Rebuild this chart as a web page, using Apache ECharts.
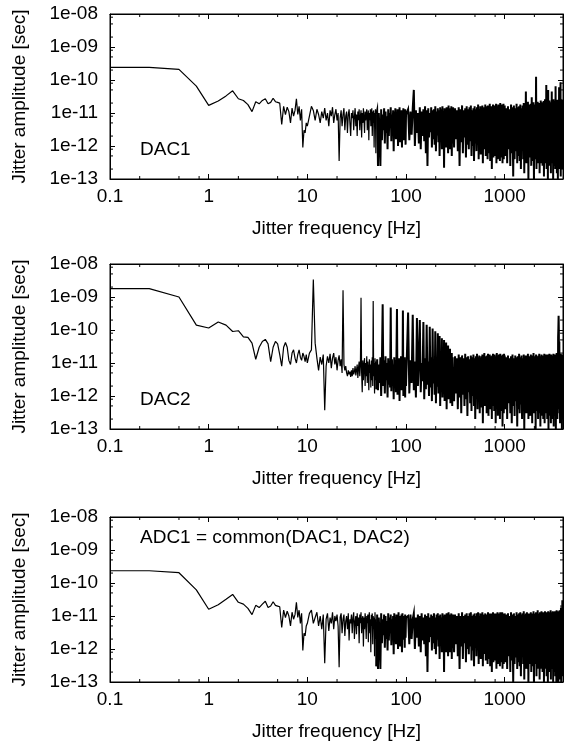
<!DOCTYPE html>
<html>
<head>
<meta charset="utf-8">
<script src="https://cdn.jsdelivr.net/npm/echarts@6/dist/echarts.min.js"></script>
<style>
html,body{margin:0;padding:0;background:#fff;}
#chart{width:564px;height:742px;}
</style>
</head>
<body>
<div id="chart"></div>
<script>
// ---------- data (amplitudes in picoseconds; 1 ps = 1e-12 s) ----------
const PS = 1e-12;
const panelLabels = ['DAC1', 'DAC2', 'ADC1 = common(DAC1, DAC2)'];
const xTitle = 'Jitter frequency [Hz]';
const yTitle = 'Jitter amplitude [sec]';

// low-frequency bins (first point at the axis minimum)
const freqLow = [0.1, 0.25, 0.5, 0.75, 1, 1.25, 1.5, 1.75, 2, 2.25, 2.5, 2.75, 3, 3.25, 3.5, 3.75, 4, 4.25, 4.5, 4.75, 5,
  5.25, 5.5, 5.75, 6, 6.25, 6.5, 6.75, 7, 7.25, 7.5, 7.75, 8, 8.25, 8.5, 8.75, 9, 9.25, 9.5, 9.75, 10];
// remaining segments: start frequency and bin step (Hz)
const segStart = [10.5, 51, 105, 307, 1020];
const segStep = [0.5, 1, 3, 7, 20];

// ---- DAC1 ----
const dac1A = [240, 240, 210, 65, 17, 23, 33, 47, 27, 24, 18, 11, 22, 19, 24, 27, 19, 21, 28, 22, 21, 20, 4.5, 16, 9, 15, 11, 5, 14, 8, 12, 27, 9, 16, 6, 13, 0.9, 3, 2.5, 5, 4];
const dac1B = [8, 16, 12, 6, 13, 9, 5, 11, 7, 14, 6, 10, 4, 12, 8, 15, 5, 9, 13, 6,
  10, 0.35, 7, 12, 4, 9, 14, 3, 8, 11, 2.5, 9, 13, 5, 2, 10, 7, 12, 3, 8,
  14, 4, 9, 2, 11, 6, 13, 3, 8, 12, 1.8, 10, 5, 14, 7, 2.5, 11, 6, 9, 13,
  3, 8, 12, 1.5, 10, 6, 13, 4, 9, 14, 2, 11, 5, 12, 0.9, 10, 6, 13, 0.6, 9];
const dac1C = [12, 0.25, 10, 2, 0.25, 13, 1.5, 9, 3, 14, 1.2, 11, 2.5, 8, 0.8, 13, 2, 10, 4, 15,
  1.4, 9, 2.2, 12, 0.7, 11, 3, 14, 1.6, 8, 2.8, 13, 1, 10, 2.4, 15, 1.3, 9, 3.5, 12,
  0.9, 11, 2, 14, 1.5, 10, 2.6, 13, 1.1, 9];
const dac1D = [13, 1.5, 11, 2.2, 14, 50, 1, 12, 2.5, 10, 1.2, 15, 0.8, 11, 2, 13, 1.4, 16, 0.6, 12,
  0.25, 14, 1.8, 10, 2.6, 15, 0.9, 12, 1.6, 13, 1.1, 16, 0.7, 11, 2.1, 14, 1.3, 12, 0.5, 15,
  1.9, 13, 0.8, 16, 1.2, 11, 0.22, 14, 1.7, 12, 0.9, 15, 2.3, 13, 0.6, 17, 1.4, 12, 0.8, 14,
  1.5, 16, 0.5, 13, 1.2, 15];
const dac1E = [0.9, 14, 1.6, 12, 0.7, 15, 0.25, 13, 1.3, 17, 0.6, 12, 1.8, 14, 0.45, 16, 1.1, 13, 0.8, 15,
  1.4, 17, 0.5, 12, 1, 14, 0.35, 16, 1.2, 13, 0.7, 15, 1.5, 18, 0.4, 13, 0.9, 16, 0.55, 14,
  1.2, 17, 0.3, 15, 0.8, 13, 1.4, 18, 0.5, 16, 0.9, 14, 0.4, 17, 1.1, 15, 0.6, 19, 0.35, 13,
  1, 16, 0.2, 14, 0.7, 18, 0.45, 15, 1.2, 17, 0.5, 13, 0.8, 19, 0.3, 16, 1, 14, 0.4, 18,
  0.65, 15, 1.1, 17, 0.35, 20, 0.7, 14, 0.45, 16, 0.9, 18, 0.3, 15, 0.6, 19, 0.4, 16, 1, 17];
const dac1F = [0.5, 14, 0.3, 16, 0.8, 13, 0.25, 18, 0.6, 15, 0.12, 17, 0.4, 14, 0.7, 19, 0.3, 15, 0.5, 16,
  0.35, 18, 0.2, 14, 0.9, 17, 0.4, 20, 0.15, 16, 0.5, 45, 0.3, 17, 0.6, 22, 0.1, 18, 0.45, 15,
  0.8, 19, 0.25, 30, 0.5, 16, 0.35, 21, 0.1, 17, 0.4, 18, 0.6, 125, 0.2, 19, 0.5, 22, 0.3, 16,
  0.7, 20, 0.15, 17, 0.45, 24, 0.3, 18, 0.55, 21, 0.25, 19, 0.6, 23, 0.12, 18, 0.4, 26, 0.3, 20,
  0.5, 70, 0.2, 19, 0.45, 22, 0.1, 50, 0.35, 18, 0.6, 24, 0.25, 20, 0.5, 21, 0.15, 19, 0.4, 45,
  0.3, 22, 0.55, 19, 0.1, 26, 0.4, 23, 0.25, 20, 0.5, 21, 0.2, 65, 0.35, 24, 0.6, 19, 0.15, 22,
  0.45, 25, 0.1, 20, 0.3, 23, 0.5, 60, 0.2, 21, 0.4, 24, 0.25, 85, 0.12, 22, 0.5, 26, 0.3, 20,
  0.2, 23, 0.45, 25, 0.3];

// ---- DAC2 ----
const dac2A = [1800, 1800, 1000, 140, 115, 175, 140, 90, 95, 62, 60, 40, 13, 30, 45, 52, 38, 11, 30, 45, 38, 18, 8, 30, 42, 30, 12, 9, 20, 25, 14, 10, 18, 25, 15, 12, 20, 16, 11, 18, 10];
const dac2B = [20, 25, 3400, 40, 14, 6, 15, 9, 18, 0.37, 8, 16, 10, 19, 7, 14, 20, 9, 15, 6,
  12, 17, 8, 13, 5, 1600, 9, 6, 8, 5, 4, 6, 4.5, 5.5, 3.8, 6, 4, 7, 4.5, 5.5,
  8, 4.2, 6, 9, 3.5, 7, 11, 4, 8, 950, 5, 1.3, 12, 3, 9, 14, 2, 10, 4, 16,
  2.5, 11, 6, 1.5, 13, 5, 9, 1.8, 12, 3, 15, 2, 760, 4, 10, 1.2, 14, 3, 11, 1.6];
const dac2C = [13, 1.5, 9, 2.5, 15, 1, 11, 600, 2, 12, 1.2, 16, 3, 10, 0.9, 14, 2.2, 11, 1.8, 480,
  1.4, 13, 2.8, 9, 0.8, 15, 2, 12, 1.3, 17, 430, 1.1, 10, 2.4, 14, 0.7, 12, 3, 16, 1.5,
  11, 2.2, 390, 1, 13, 2.6, 15, 0.9, 12, 2];
const dac2D = [340, 1.2, 12, 2.5, 290, 1.5, 11, 0.9, 230, 2, 13, 200, 1.3, 10, 2.8, 175, 0.8, 14, 1.6, 145,
  2.2, 11, 1, 125, 1.8, 15, 0.7, 110, 2.4, 12, 1.1, 92, 0.6, 13, 1.9, 80, 1.2, 14, 66, 0.5,
  12, 2, 56, 0.9, 15, 1.4, 50, 0.7, 13, 2.1, 42, 0.4, 12, 1.5, 34, 0.8, 14, 1.1, 27, 0.6,
  13, 1.7, 20, 0.5, 15, 1.2];
const dac2E = [0.7, 16, 1.2, 14, 0.4, 18, 0.9, 15, 0.3, 17, 1.1, 14, 0.5, 19, 0.8, 15, 0.25, 16, 1.3, 13,
  0.6, 17, 0.35, 15, 1, 18, 0.5, 14, 0.2, 16, 0.9, 19, 0.4, 15, 1.2, 17, 0.3, 14, 0.7, 16,
  0.45, 18, 0.15, 15, 0.8, 20, 0.5, 16, 1, 14, 0.3, 17, 0.6, 19, 0.25, 15, 0.9, 18, 0.4, 16,
  0.7, 14, 0.2, 17, 0.5, 19, 1.1, 15, 0.35, 18, 0.6, 16, 0.15, 14, 0.8, 20, 0.4, 17, 0.25, 15,
  0.9, 18, 0.45, 16, 0.2, 19, 0.7, 15, 0.35, 17, 0.5, 16, 0.12, 18, 0.6, 15, 0.3, 19, 0.8, 17];
const dac2F = [0.4, 15, 0.2, 17, 0.6, 14, 0.3, 16, 0.15, 18, 0.5, 14, 0.25, 17, 0.7, 15, 0.12, 16, 0.4, 19,
  0.3, 15, 0.55, 17, 0.2, 14, 0.45, 18, 0.1, 16, 0.6, 17, 0.3, 15, 0.5, 19, 0.2, 16, 0.4, 14,
  0.25, 18, 0.6, 15, 0.15, 17, 0.5, 20, 0.3, 16, 0.45, 14, 0.1, 18, 0.35, 16, 0.6, 15, 0.2, 17,
  0.5, 19, 0.3, 16, 0.12, 15, 0.45, 18, 0.25, 14, 0.6, 17, 0.2, 16, 0.4, 19, 0.15, 15, 0.5, 18,
  0.3, 16, 0.55, 14, 0.2, 18, 0.4, 17, 0.1, 15, 0.45, 19, 0.25, 16, 0.6, 15, 0.15, 18, 0.35, 17,
  0.2, 14, 0.5, 17, 0.3, 19, 0.12, 16, 0.4, 15, 0.55, 18, 0.25, 16, 0.1, 17, 0.45, 20, 0.3, 15,
  0.2, 17, 0.5, 60, 110, 270, 90, 0.4, 45, 0.3, 18, 0.15, 16, 0.5, 19, 0.25, 15, 0.4, 17, 0.1,
  16, 0.3, 18, 0.2, 15];

// ---- ADC1 ----
const adc1A = [235, 235, 205, 62, 16, 22, 32, 45, 26, 23, 17, 11, 21, 18, 23, 28, 18, 20, 27, 21, 20, 19, 4.5, 15, 9, 14, 10, 5, 13, 8, 11, 26, 9, 15, 6, 12, 0.9, 3, 2.5, 5, 6];
const adc1B = [12, 15, 6, 9, 13, 5, 10, 4, 11, 0.37, 8, 12, 3.5, 9, 6, 13, 4, 10, 7, 11,
  5, 0.28, 9, 12, 3, 8, 11, 2.5, 7, 10, 4, 12, 1.8, 8, 6, 11, 3, 9, 13, 2,
  7, 10, 2.8, 12, 5, 9, 1.5, 11, 6, 13, 3, 8, 10, 1.2, 9, 4, 12, 7, 2, 10,
  6, 11, 1.6, 9, 13, 3, 8, 0.8, 11, 5, 12, 1.4, 10, 4, 9, 0.6, 13, 2, 8, 0.3];
const adc1C = [11, 0.25, 9, 2, 0.25, 12, 1.5, 8, 2.6, 11, 1.1, 10, 2, 7, 0.9, 12, 1.8, 9, 3, 11,
  1.3, 8, 2.2, 10, 0.7, 12, 2.5, 9, 1.4, 11, 2.8, 8, 1, 13, 2, 10, 1.2, 9, 3, 11,
  0.8, 12, 1.9, 8, 2.4, 10, 1.1, 11, 2.2, 9];
const adc1D = [10, 1.4, 11, 2, 8, 12, 1, 9, 2.2, 11, 1.2, 10, 0.8, 12, 1.8, 9, 1.4, 11, 0.6, 10,
  0.2, 12, 1.6, 9, 2.3, 11, 0.9, 10, 1.5, 12, 1, 9, 0.7, 11, 1.9, 12, 1.2, 10, 0.5, 11,
  1.7, 9, 0.8, 12, 1.1, 10, 0.2, 11, 1.6, 9, 0.8, 12, 2, 10, 0.6, 13, 1.3, 9, 0.8, 11,
  1.4, 12, 0.5, 10, 1.1, 11];
const adc1E = [0.8, 11, 1.4, 10, 0.6, 12, 0.25, 10, 1.2, 13, 0.5, 10, 1.5, 11, 0.4, 12, 1, 10, 0.7, 12,
  1.2, 13, 0.45, 10, 0.9, 11, 0.3, 12, 1.1, 10, 0.6, 12, 1.3, 13, 0.35, 10, 0.8, 12, 0.5, 11,
  1, 13, 0.3, 11, 0.7, 10, 1.2, 12, 0.45, 11, 0.8, 10, 0.35, 13, 1, 11, 0.5, 12, 0.3, 10,
  0.9, 12, 0.2, 11, 0.6, 13, 0.4, 10, 1.1, 12, 0.45, 10, 0.7, 12, 0.25, 11, 0.9, 13, 0.35, 12,
  0.6, 11, 1, 12, 0.3, 13, 0.6, 10, 0.4, 12, 0.8, 13, 0.25, 11, 0.5, 12, 0.35, 11, 0.9, 12];
const adc1F = [0.4, 11, 0.25, 12, 0.6, 10, 0.2, 13, 0.45, 11, 0.1, 12, 0.35, 10, 0.55, 13, 0.25, 11, 0.4, 12,
  0.3, 13, 0.15, 11, 0.6, 12, 0.35, 14, 0.12, 11, 0.45, 12, 0.25, 13, 0.5, 11, 0.1, 12, 0.35, 10,
  0.6, 13, 0.2, 12, 0.4, 11, 0.3, 14, 0.1, 12, 0.35, 11, 0.5, 13, 0.15, 12, 0.4, 15, 0.25, 11,
  0.5, 12, 0.12, 13, 0.35, 11, 0.25, 14, 0.45, 12, 0.2, 13, 0.5, 11, 0.1, 12, 0.3, 14, 0.25, 13,
  0.4, 12, 0.15, 13, 0.35, 11, 0.1, 14, 0.3, 12, 0.5, 13, 0.2, 12, 0.45, 15, 0.12, 11, 0.3, 13,
  0.25, 12, 0.4, 14, 0.1, 13, 0.35, 12, 0.2, 11, 0.45, 14, 0.15, 12, 0.3, 13, 0.1, 15, 0.35, 12,
  0.2, 13, 0.4, 12, 0.1, 14, 0.3, 13, 0.25, 15, 0.12, 12, 0.35, 14, 0.2, 18, 0.1, 13, 0.3, 16,
  0.15, 30, 0.25, 14, 0.2];

// tick values
const minorX = [0.2, 0.5, 0.8, 2, 5, 8, 20, 50, 80, 200, 500, 800, 2000];
const minorY = [2e-13, 5e-13, 8e-13, 2e-12, 5e-12, 8e-12, 2e-11, 5e-11, 8e-11, 2e-10, 5e-10, 8e-10, 2e-9, 5e-9, 8e-9];

// ---------- build ----------
// sparse part: low bins + first segment; dense part: the remaining segments
function buildSparse(lists) {
  const pts = [];
  lists[0].forEach((v, i) => pts.push([freqLow[i], v * PS]));
  lists[1].forEach((v, i) => pts.push([+(segStart[0] + i * segStep[0]).toFixed(3), v * PS]));
  return pts;
}
function buildDense(lists) {
  const pts = [];
  const b = lists[1];
  pts.push([+(segStart[0] + (b.length - 1) * segStep[0]).toFixed(3), b[b.length - 1] * PS]);
  for (let s = 1; s < segStart.length; s++) {
    lists[s + 1].forEach((v, i) => pts.push([+(segStart[s] + i * segStep[s]).toFixed(3), v * PS]));
  }
  return pts;
}
const panels = [
  [dac1A, dac1B, dac1C, dac1D, dac1E, dac1F],
  [dac2A, dac2B, dac2C, dac2D, dac2E, dac2F],
  [adc1A, adc1B, adc1C, adc1D, adc1E, adc1F]
];

const FONT = '"Liberation Sans", Arial, Helvetica, sans-serif';
const FS = 19;
const tops = [14, 264, 517];
const H = 165;

function isPow10(v) { const l = Math.log10(v); return Math.abs(l - Math.round(l)) < 1e-6; }
function xFmt(v) {
  if (!isPow10(v)) return '';
  const e = Math.round(Math.log10(v));
  return e < 0 ? '0.' + '0'.repeat(-e - 1) + '1' : String(Math.pow(10, e));
}
function yFmt(v) {
  if (!isPow10(v)) return '';
  const e = Math.round(Math.log10(v));
  const a = Math.abs(e);
  return '1e' + (e < 0 ? '-' : '+') + (a < 10 ? '0' : '') + a;
}

const grid = [], xAxis = [], yAxis = [], series = [], graphic = [];
const black = '#000';
tops.forEach((t, g) => {
  grid.push({ left: 110, top: t, width: 453, height: H, show: true, borderColor: black, borderWidth: 1, backgroundColor: 'transparent' });
  const xb = {
    type: 'log', logBase: 10, min: 0.1, max: 3900, gridIndex: g, splitNumber: 5,
    axisLine: { show: true, lineStyle: { color: black, width: 1 } },
    axisTick: { show: true, inside: true, length: 5, lineStyle: { color: black, width: 1 } },
    splitLine: { show: false }, minorTick: { show: false }
  };
  xAxis.push(Object.assign({}, xb, {
    position: 'bottom',
    axisLabel: { formatter: xFmt, fontSize: FS, color: black, fontFamily: FONT, margin: 8, showMaxLabel: false },
    name: xTitle, nameLocation: 'middle', nameGap: 40,
    nameTextStyle: { fontSize: FS, color: black, fontFamily: FONT }
  }));
  xAxis.push(Object.assign({}, xb, { position: 'top', axisLabel: { show: false } }));
  const yb = {
    type: 'log', logBase: 10, min: 1e-13, max: 1e-8, gridIndex: g, splitNumber: 5,
    axisLine: { show: true, lineStyle: { color: black, width: 1 } },
    axisTick: { show: true, inside: true, length: 5, lineStyle: { color: black, width: 1 } },
    splitLine: { show: false }, minorTick: { show: false }
  };
  yAxis.push(Object.assign({}, yb, {
    position: 'left',
    axisLabel: { formatter: yFmt, fontSize: FS, color: black, fontFamily: FONT, margin: 12 },
    name: yTitle, nameLocation: 'middle', nameGap: 81,
    nameTextStyle: { fontSize: FS, color: black, fontFamily: FONT }
  }));
  yAxis.push(Object.assign({}, yb, { position: 'right', axisLabel: { show: false } }));

  series.push({
    type: 'line', xAxisIndex: 2 * g, yAxisIndex: 2 * g,
    data: buildSparse(panels[g]), showSymbol: false, symbol: 'none',
    lineStyle: { color: black, width: 1.2 }, animation: false, silent: true
  });
  series.push({
    type: 'line', xAxisIndex: 2 * g, yAxisIndex: 2 * g,
    data: buildDense(panels[g]), showSymbol: false, symbol: 'none',
    lineStyle: { color: black, width: 2, join: 'miter' }, animation: false, silent: true
  });

  const tickData = minorX.map(v => [v, 1e-13, 0]).concat(minorY.map(v => [0.1, v, 1]));
  series.push({
    type: 'custom', xAxisIndex: 2 * g, yAxisIndex: 2 * g, data: tickData, clip: false, silent: true, animation: false,
    encode: { x: 0, y: 1 },
    renderItem: function (params, api) {
      const cs = params.coordSys;
      const kind = api.value(2);
      const st = { stroke: black, lineWidth: 1 };
      const L = 3;
      if (kind === 0) {
        const px = api.coord([api.value(0), 1e-13])[0];
        return { type: 'group', children: [
          { type: 'line', shape: { x1: px, y1: cs.y + cs.height, x2: px, y2: cs.y + cs.height - L }, style: st },
          { type: 'line', shape: { x1: px, y1: cs.y, x2: px, y2: cs.y + L }, style: st }
        ] };
      }
      const py = api.coord([0.1, api.value(1)])[1];
      return { type: 'group', children: [
        { type: 'line', shape: { x1: cs.x, y1: py, x2: cs.x + L, y2: py }, style: st },
        { type: 'line', shape: { x1: cs.x + cs.width, y1: py, x2: cs.x + cs.width - L, y2: py }, style: st }
      ] };
    }
  });

  graphic.push({ type: 'text', left: 140, top: t + (g === 2 ? 11 : 126), style: { text: panelLabels[g], font: FS + 'px ' + FONT, fill: black } });
});

const chart = echarts.init(document.getElementById('chart'), null, { renderer: 'canvas' });
chart.setOption({ animation: false, backgroundColor: '#fff', grid, xAxis, yAxis, series, graphic });
</script>
</body>
</html>
